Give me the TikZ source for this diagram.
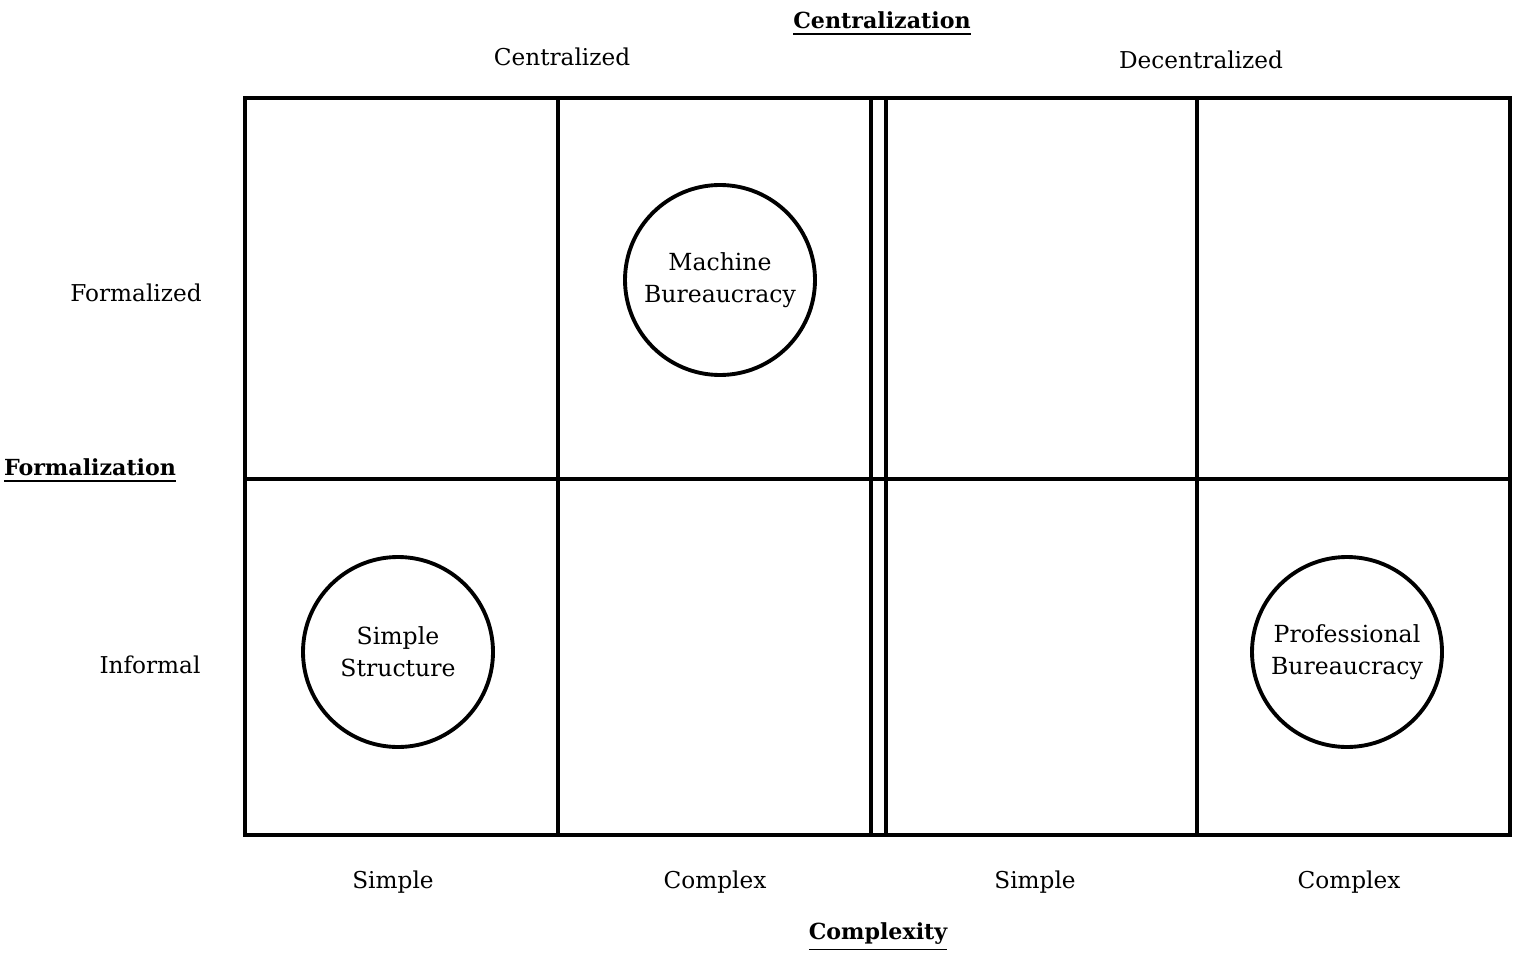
\documentclass[tikz,border=0pt]{standalone}
\usepackage{fontspec}
\setmainfont{DejaVu Serif}
\tikzset{
  gridline/.style={line width=0.9pt},
  typecircle/.style={circle, draw, line width=1.1pt, minimum size=1.9cm, inner sep=0pt, align=center, font=\fontsize{6.7}{9}\selectfont},
  axislabel/.style={font=\fontsize{6.6}{8}\selectfont},
  axistitle/.style={font=\fontsize{6.3}{8}\selectfont\bfseries},
}
\begin{document}
\begin{tikzpicture}
    \useasboundingbox (0, 0) rectangle (15.16, 9.52);
    % outer frame and cells
    \draw[gridline] (2.45, 1.17) rectangle (15.10, 8.54);
    \draw[gridline] (2.45, 4.73) -- (15.10, 4.73);
    \draw[gridline] (5.58, 1.17) -- (5.58, 8.54);
    \draw[gridline] (8.71, 1.17) -- (8.71, 8.54);
    \draw[gridline] (8.86, 1.17) -- (8.86, 8.54);
    \draw[gridline] (11.97, 1.17) -- (11.97, 8.54);
    % structures
    \node[typecircle] (machine) at (7.20, 6.72) {Machine\\Bureaucracy};
    \node[typecircle] (simple) at (3.98, 3.00) {Simple\\Structure};
    \node[typecircle] (professional) at (13.47, 3.00) {Professional\\Bureaucracy};
    % centralization axis
    \node[axistitle] (centtitle) at (8.82, 9.28) {\underline{Centralization}};
    \node[axislabel] (cent) at (5.62, 8.95) {Centralized};
    \node[axislabel] (decent) at (12.01, 8.92) {Decentralized};
    % formalization axis
    \node[axistitle] (formtitle) at (0.90, 4.81) {\underline{Formalization}};
    \node[axislabel] (formal) at (1.36, 6.59) {Formalized};
    \node[axislabel] (informal) at (1.50, 2.87) {Informal};
    % complexity axis
    \node[axislabel] (simpleA) at (3.93, 0.70) {Simple};
    \node[axislabel] (complexA) at (7.15, 0.70) {Complex};
    \node[axislabel] (simpleB) at (10.35, 0.70) {Simple};
    \node[axislabel] (complexB) at (13.49, 0.70) {Complex};
    \node[axistitle] (comptitle) at (8.78, 0.15) {\underline{Complexity}};
\end{tikzpicture}
\end{document}
